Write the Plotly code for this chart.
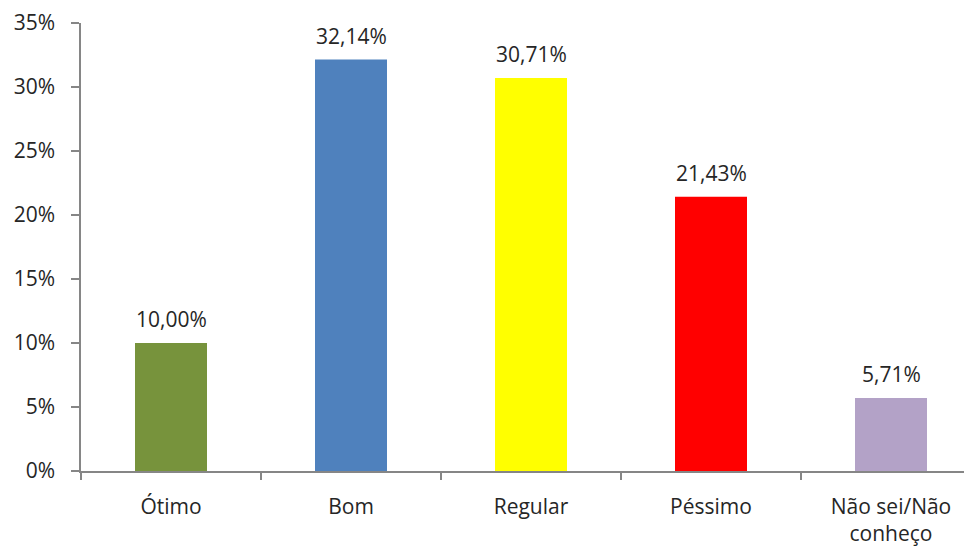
import plotly.graph_objects as go

categories = ["Ótimo", "Bom", "Regular", "Péssimo", "Não sei/Não<br>conheço"]
values = [0.1000, 0.3214, 0.3071, 0.2143, 0.0571]
colors = ["#77933C", "#4F81BD", "#FFFF00", "#FF0000", "#B3A2C7"]
ytick_vals = [0, 0.05, 0.10, 0.15, 0.20, 0.25, 0.30, 0.35]

FONT = "Open Sans"
FS = 21
TXT = "#262626"

fig = go.Figure(go.Bar(
    x=categories, y=values,
    marker=dict(color=colors, line=dict(width=0)),
    width=0.4,
    hoverinfo="x+y",
))

for c, v in zip(categories, values):
    fig.add_annotation(
        x=c, y=v, xref="x", yref="y",
        text=f"{v*100:.2f}%".replace(".", ","),
        showarrow=False, yanchor="bottom", yshift=8,
        font=dict(family=FONT, size=FS, color=TXT),
    )

fig.update_layout(
    width=964, height=540,
    margin=dict(l=73, r=0, t=15, b=77),
    paper_bgcolor="white", plot_bgcolor="white",
    separators=",.",
    font=dict(family=FONT, size=FS, color=TXT),
    showlegend=False,
)
fig.update_yaxes(
    range=[0, 0.35], tickvals=ytick_vals, tickformat=".0%",
    showgrid=False, zeroline=False, automargin=False,
    showline=True, linecolor="#868686", linewidth=1.5,
    ticks="outside", ticklen=8, tickcolor="#868686", tickwidth=1.5,
    ticklabelstandoff=12,
    tickfont=dict(family=FONT, size=FS, color=TXT),
)
fig.update_xaxes(
    range=[-0.5, 4.45],
    showgrid=False, automargin=False,
    showline=True, linecolor="#868686", linewidth=1.5,
    ticks="outside", tickson="boundaries", ticklen=7, tickcolor="#868686", tickwidth=1.5,
    ticklabelstandoff=16,
    tickfont=dict(family=FONT, size=FS, color=TXT),
)

fig.write_html("out.html")
